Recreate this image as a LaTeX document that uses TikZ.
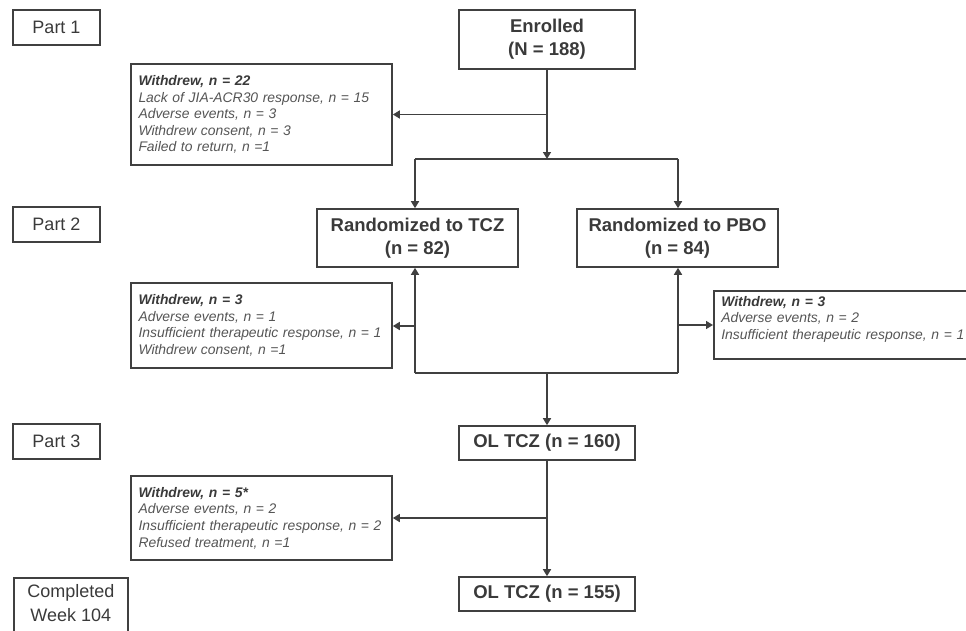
\documentclass[tikz,border=0pt]{standalone}
\usepackage{fontspec}
\setmainfont{Liberation Sans}
\usetikzlibrary{arrows.meta}

\definecolor{linegray}{HTML}{404040}
\definecolor{boldgray}{HTML}{3A3A3A}
\definecolor{itgray}{HTML}{555555}

\tikzset{
  partbox/.style={draw=linegray, line width=1.6pt, text=boldgray,
    minimum width=87pt, minimum height=35pt, inner sep=0pt, font=\fontsize{18}{22}\selectfont},
  armbox/.style={draw=linegray, line width=1.6pt, text=boldgray, align=center,
    minimum width=176pt, inner sep=0pt, font=\bfseries\fontsize{18.5}{23}\selectfont},
  whybox/.style={draw=linegray, line width=1.6pt, text=itgray, align=left,
    text width=246pt, inner xsep=7.5pt, inner ysep=0pt,
    font=\itshape\fontsize{13.9}{16.6}\selectfont},
  flow/.style={draw=linegray, line width=1.6pt},
  tip/.style={flow, -{Triangle[length=7pt,width=8pt]}}
}
\newcommand{\wdhead}[1]{{\bfseries\color{boldgray}#1}}

\begin{document}
\begin{tikzpicture}[x=1pt,y=-1pt]
  \useasboundingbox (0,0) rectangle (966,630);

  % stage labels on the left
  \draw (56.5,27.5)  node (part1) [partbox] {Part 1};
  \draw (56.5,224.5) node (part2) [partbox] {Part 2};
  \draw (56.5,441.5) node (part3) [partbox] {Part 3};
  \draw (13,577)     node (done)  [partbox, anchor=north west, minimum width=114pt,
                        align=center, inner ysep=6.5pt, text depth=16pt,
                        font=\fontsize{18}{24}\selectfont] {Completed\\Week 104};

  % main arms
  \draw (547,39.5)   node (enr) [armbox, minimum height=59pt] {Enrolled\\(N = 188)};
  \draw (417.5,238)  node (tcz) [armbox, minimum width=201pt, minimum height=58pt] {Randomized to TCZ\\(n = 82)};
  \draw (677.5,238)  node (pbo) [armbox, minimum width=201pt, minimum height=58pt] {Randomized to PBO\\(n = 84)};
  \draw (547,443)    node (ol1) [armbox, minimum height=34pt] {OL TCZ (n = 160)};
  \draw (547,594)    node (ol2) [armbox, minimum height=34pt] {OL TCZ (n = 155)};

  % withdrawals
  \draw (261.5,114.5) node (wd1) [whybox, minimum height=101pt] {\wdhead{Withdrew, n = 22}\\
    Lack of JIA-ACR30 response, \textit{n} = 15\\Adverse events, \textit{n} = 3\\
    Withdrew consent, \textit{n} = 3\\Failed to return, \textit{n} =1};
  \draw (261.5,325.5) node (wd2) [whybox, minimum height=85pt] {\wdhead{Withdrew, n = 3}\\
    Adverse events, \textit{n} = 1\\Insufficient therapeutic response, \textit{n} = 1\\
    Withdrew consent, \textit{n} =1};
  \draw (713,325)     node (wd3) [whybox, anchor=west, text width=256pt, minimum height=68pt,
                        text depth=47.5pt] {\wdhead{Withdrew, n = 3}\\
    Adverse events, \textit{n} = 2\\Insufficient therapeutic response, \textit{n} = 1};
  \draw (261.5,518)   node (wd4) [whybox, minimum height=84pt] {\wdhead{Withdrew, n = 5*}\\
    Adverse events, \textit{n} = 2\\Insufficient therapeutic response, \textit{n} = 2\\
    Refused treatment, \textit{n} =1};

  % junction points
  \coordinate (split) at (547,159);
  \coordinate (lsplit) at (415,159);
  \coordinate (rsplit) at (678,159);
  \coordinate (merge) at (547,373);
  \coordinate (lmerge) at (415,373);
  \coordinate (rmerge) at (678,373);

  % part 1
  \draw [tip] (enr.south) -- (split);
  \draw [tip] (enr.south |- wd1.east) -- (wd1.east);
  \draw [flow] (lsplit) -- (rsplit);
  \draw [tip] (lsplit) -- (lsplit |- tcz.north);
  \draw [tip] (rsplit) -- (rsplit |- pbo.north);

  % part 2
  \draw [tip] (lmerge) -- (lmerge |- tcz.south);
  \draw [tip] (rmerge) -- (rmerge |- pbo.south);
  \draw [flow] (lmerge) -- (rmerge);
  \draw [tip] (415,326) -- (wd2.east |- 0,326);
  \draw [tip] (rmerge |- wd3.west) -- (wd3.west);
  \draw [tip] (merge) -- (ol1.north);

  % part 3
  \draw [tip] (ol1.south) -- (ol2.north);
  \draw [tip] (ol1.south |- wd4.east) -- (wd4.east);
\end{tikzpicture}
\end{document}
